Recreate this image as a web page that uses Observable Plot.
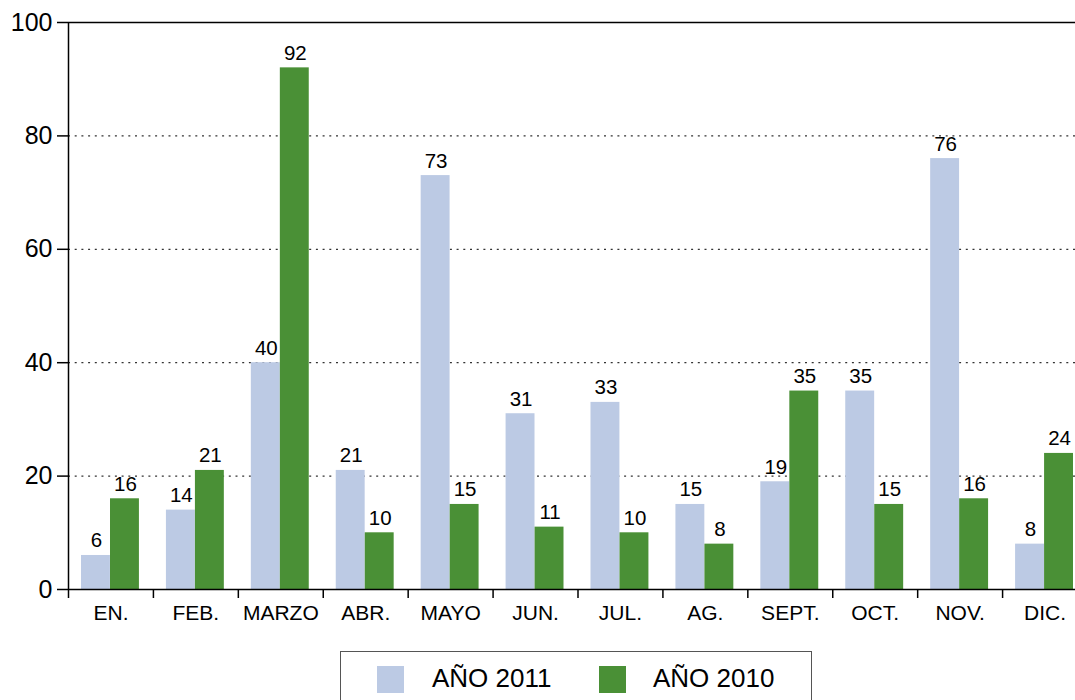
<!DOCTYPE html>
<html>
<head>
<meta charset="utf-8">
<script src="https://cdn.jsdelivr.net/npm/d3@7"></script>
<script src="https://cdn.jsdelivr.net/npm/@observablehq/plot@0.6"></script>
<style>
  html, body { margin: 0; padding: 0; background: #fff; overflow: hidden; width: 1075px; height: 700px; }
  #wrap { position: relative; width: 1075px; height: 700px; font-family: "Liberation Sans", Arial, Helvetica, sans-serif; }
  #chart svg { overflow: visible; }
  #legend { position: absolute; left: 340px; top: 651px; width: 472px; height: 60px; border: 1.5px solid #555; box-sizing: border-box; }
  .sw { position: absolute; top: 14px; width: 27px; height: 27px; }
  .lt { position: absolute; top: 11px; font-size: 26px; color: #000; line-height: 30px; }
</style>
</head>
<body>
<div id="wrap">
  <div id="chart"></div>
  <div id="legend">
    <div class="sw" style="left:36px;background:#BCCAE4"></div>
    <div class="lt" style="left:91px">AÑO 2011</div>
    <div class="sw" style="left:258px;background:#4A9036"></div>
    <div class="lt" style="left:312px">AÑO 2010</div>
  </div>
</div>
<script>
const months = ["EN.", "FEB.", "MARZO", "ABR.", "MAYO", "JUN.", "JUL.", "AG.", "SEPT.", "OCT.", "NOV.", "DIC."];
const values2011 = [6, 14, 40, 21, 73, 31, 33, 15, 19, 35, 76, 8];
const values2010 = [16, 21, 92, 10, 15, 11, 10, 8, 35, 15, 16, 24];
const yTicks = [0, 20, 40, 60, 80, 100];
const colors = {"2011": "#BCCAE4", "2010": "#4A9036"};

const d2011 = months.map((m, i) => ({i, month: m, value: values2011[i]}));
const d2010 = months.map((m, i) => ({i, month: m, value: values2010[i]}));
const boundaries = d3.range(months.length + 1);
const centers = months.map((m, i) => i + 0.5);

const chart = Plot.plot({
  width: 1075,
  height: 640,
  marginLeft: 68,
  marginRight: -12,
  marginTop: 22,
  marginBottom: 51,
  style: {fontFamily: '"Liberation Sans", Arial, Helvetica, sans-serif', color: "#000", background: "#fff", overflow: "visible"},
  x: {type: "linear", domain: [0, months.length]},
  y: {domain: [0, 100]},
  marks: [
    Plot.ruleY(yTicks.filter(d => d > 0 && d < 100), {stroke: "#333", strokeWidth: 1.2, strokeDasharray: "2,4.7"}),
    Plot.rectY(d2011, {x1: "i", x2: d => d.i + 1, y: "value", fill: colors["2011"], insetLeft: 13, insetRight: 43}),
    Plot.rectY(d2010, {x1: "i", x2: d => d.i + 1, y: "value", fill: colors["2010"], insetLeft: 42, insetRight: 14}),
    Plot.text(d2011, {x: d => d.i + 0.5, y: "value", text: d => String(d.value), dx: -14.5, dy: -8, lineAnchor: "bottom", fontSize: 20.5, fill: "#000"}),
    Plot.text(d2010, {x: d => d.i + 0.5, y: "value", text: d => String(d.value), dx: 14.5, dy: -8, lineAnchor: "bottom", fontSize: 20.5, fill: "#000"}),
    Plot.ruleY([100], {stroke: "#000", strokeWidth: 1.5}),
    Plot.ruleY([0], {stroke: "#000", strokeWidth: 1.5}),
    Plot.ruleX([0], {y1: 0, y2: 100, stroke: "#000", strokeWidth: 1.5}),
    Plot.axisY({ticks: yTicks, tickSize: 11, tickPadding: 5, fontSize: 25, label: null, strokeWidth: 1.5}),
    Plot.axisX({ticks: boundaries, tickSize: 9, tickFormat: () => "", label: null, strokeWidth: 1.5}),
    Plot.axisX({ticks: centers, tickSize: 0, tickPadding: 16, fontSize: 21, tickFormat: d => months[Math.floor(d)], label: null})
  ]
});
document.getElementById("chart").appendChild(chart);
</script>
</body>
</html>
